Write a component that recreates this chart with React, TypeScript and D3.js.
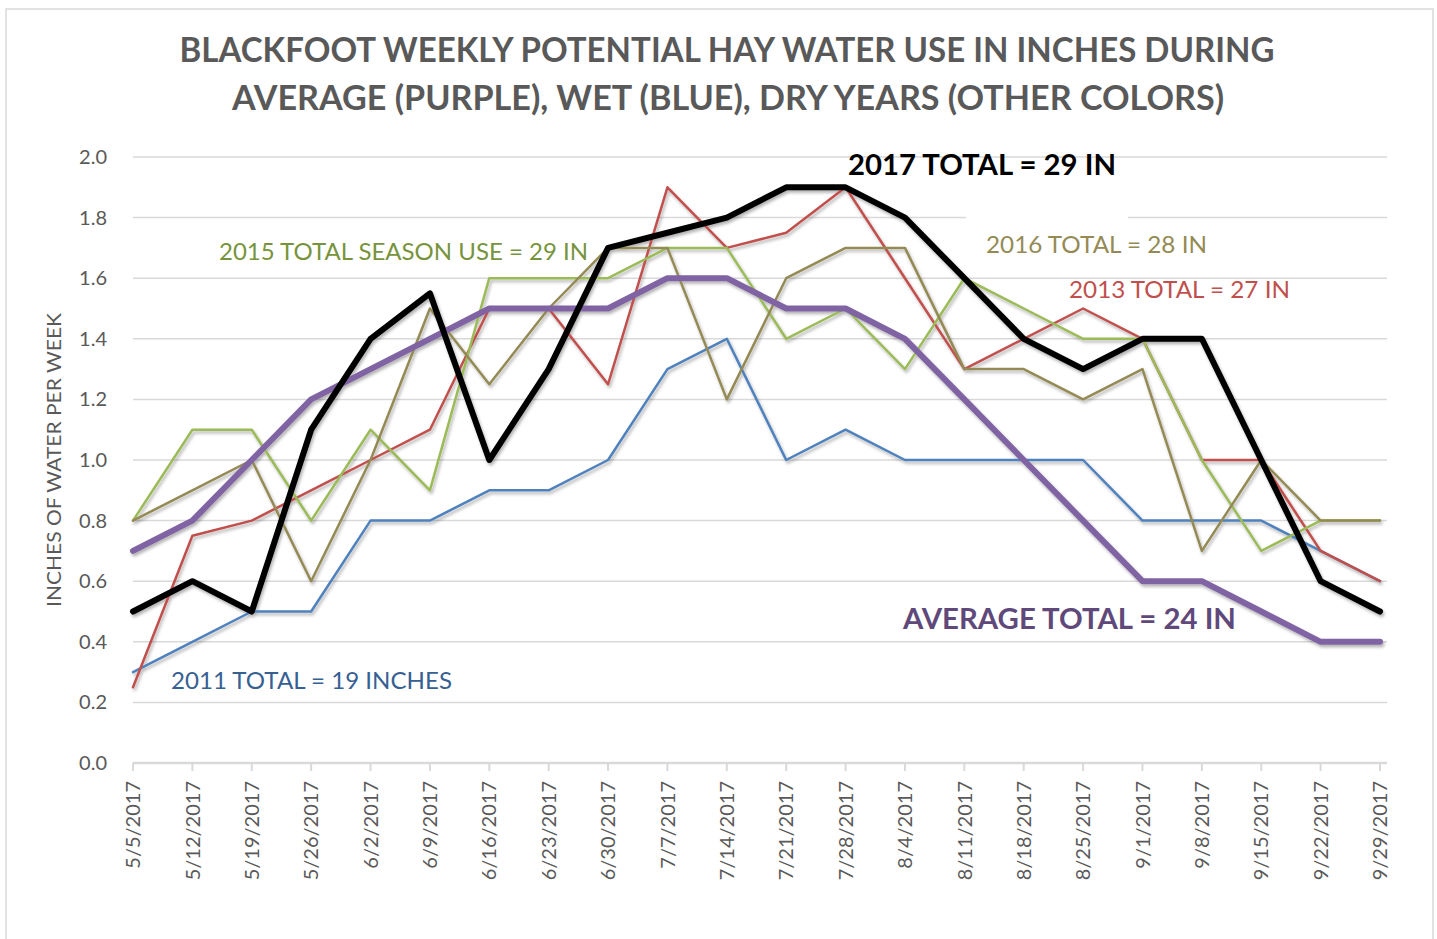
import React from "react";
import * as d3 from "d3";

const dates = [
  "5/5/2017", "5/12/2017", "5/19/2017", "5/26/2017", "6/2/2017", "6/9/2017",
  "6/16/2017", "6/23/2017", "6/30/2017", "7/7/2017", "7/14/2017", "7/21/2017",
  "7/28/2017", "8/4/2017", "8/11/2017", "8/18/2017", "8/25/2017", "9/1/2017",
  "9/8/2017", "9/15/2017", "9/22/2017", "9/29/2017",
];

const y2011 = [0.3, 0.4, 0.5, 0.5, 0.8, 0.8, 0.9, 0.9, 1.0, 1.3, 1.4, 1.0, 1.1, 1.0, 1.0, 1.0, 1.0, 0.8, 0.8, 0.8, 0.7, 0.6];
const y2013 = [0.25, 0.75, 0.8, 0.9, 1.0, 1.1, 1.5, 1.5, 1.25, 1.9, 1.7, 1.75, 1.9, 1.6, 1.3, 1.4, 1.5, 1.4, 1.0, 1.0, 0.7, 0.6];
const y2015 = [0.8, 1.1, 1.1, 0.8, 1.1, 0.9, 1.6, 1.6, 1.6, 1.7, 1.7, 1.4, 1.5, 1.3, 1.6, 1.5, 1.4, 1.4, 1.0, 0.7, 0.8, 0.8];
const y2016 = [0.8, 0.9, 1.0, 0.6, 1.0, 1.5, 1.25, 1.5, 1.7, 1.7, 1.2, 1.6, 1.7, 1.7, 1.3, 1.3, 1.2, 1.3, 0.7, 1.0, 0.8, 0.8];
const yAverage = [0.7, 0.8, 1.0, 1.2, 1.3, 1.4, 1.5, 1.5, 1.5, 1.6, 1.6, 1.5, 1.5, 1.4, 1.2, 1.0, 0.8, 0.6, 0.6, 0.5, 0.4, 0.4];
const y2017 = [0.5, 0.6, 0.5, 1.1, 1.4, 1.55, 1.0, 1.3, 1.7, 1.75, 1.8, 1.9, 1.9, 1.8, 1.6, 1.4, 1.3, 1.4, 1.4, 1.0, 0.6, 0.5];

const yTicks = [0, 0.2, 0.4, 0.6, 0.8, 1.0, 1.2, 1.4, 1.6, 1.8, 2.0];

const series = [
  { name: "2011", values: y2011, color: "#4F81BD", width: 2.5 },
  { name: "2013", values: y2013, color: "#C0504D", width: 2.5 },
  { name: "2015", values: y2015, color: "#9BBB59", width: 2.5 },
  { name: "2016", values: y2016, color: "#948A54", width: 2.5 },
  { name: "Average", values: yAverage, color: "#8064A2", width: 6 },
  { name: "2017", values: y2017, color: "#000000", width: 6 },
];

const annotations = [
  { text: "2017 TOTAL = 29 IN", x: 848, y: 175, w: 268, size: 28, weight: 700, color: "#000000" },
  { text: "2016 TOTAL = 28 IN", x: 986, y: 253, w: 221, size: 24, weight: 400, color: "#948A54" },
  { text: "2013 TOTAL = 27 IN", x: 1069, y: 298, w: 221, size: 24, weight: 400, color: "#C0504D" },
  { text: "2015 TOTAL SEASON USE = 29 IN", x: 219, y: 260, w: 369, size: 24, weight: 400, color: "#77933C" },
  { text: "2011 TOTAL = 19 INCHES", x: 171, y: 689, w: 281, size: 24, weight: 400, color: "#376092" },
  { text: "AVERAGE TOTAL = 24 IN", x: 903, y: 629, w: 333, size: 28, weight: 700, color: "#5F497A" },
];

const FONT = "Lato, 'Open Sans', sans-serif";

export default function App() {
  const W = 1437;
  const H = 939;
  const x = d3.scalePoint<string>().domain(dates).range([133, 1380]);
  const y = d3.scaleLinear().domain([0, 2]).range([763, 157]);
  const line = d3
    .line<number>()
    .x((_, i) => x(dates[i]) as number)
    .y((d) => y(d))
    .curve(d3.curveLinear);

  return (
    <svg width={W} height={H} style={{ position: "absolute", left: 0, top: 0 }}>
      <defs>
        <filter id="shadow" x="-5%" y="-5%" width="110%" height="120%">
          <feDropShadow dx="1.5" dy="2.5" stdDeviation="1.5" floodColor="#000" floodOpacity="0.3" />
        </filter>
      </defs>
      <rect x={0} y={0} width={W} height={H} fill="#fff" />
      <rect x={6} y={9} width={1427} height={H} fill="#fff" stroke="#d9d9d9" strokeWidth={1.5} />

      {/* title */}
      <text x={727} y={62} textAnchor="middle" fontFamily={FONT} fontWeight={700} fontSize={34}
        fill="#595959" textLength={1095} lengthAdjust="spacingAndGlyphs">
        BLACKFOOT WEEKLY POTENTIAL HAY WATER USE IN INCHES DURING
      </text>
      <text x={728} y={110} textAnchor="middle" fontFamily={FONT} fontWeight={700} fontSize={34}
        fill="#595959" textLength={992} lengthAdjust="spacingAndGlyphs">
        AVERAGE (PURPLE), WET (BLUE), DRY YEARS (OTHER COLORS)
      </text>

      {/* gridlines */}
      {yTicks.map((t) => (
        <line key={t} x1={133} x2={1387} y1={y(t)} y2={y(t)}
          stroke={t === 0 ? "#d9d9d9" : "#d9d9d9"} strokeWidth={t === 0 ? 2.5 : 1.5} />
      ))}
      {/* white label box covering gridline */}
      <rect x={966} y={207} width={162} height={20} fill="#fff" />

      {/* y tick labels */}
      {yTicks.map((t) => (
        <text key={"l" + t} x={107} y={y(t)} dy="0.35em" textAnchor="end" fontFamily={FONT}
          fontSize={20} fill="#595959">
          {t.toFixed(1)}
        </text>
      ))}

      {/* y axis title */}
      <text transform={`translate(61, 460) rotate(-90)`} textAnchor="middle" fontFamily={FONT}
        fontSize={20} fill="#595959" textLength={294} lengthAdjust="spacingAndGlyphs">
        INCHES OF WATER PER WEEK
      </text>

      {/* x ticks + labels */}
      {dates.map((d) => (
        <g key={d}>
          <line x1={x(d)} x2={x(d)} y1={763} y2={771} stroke="#d9d9d9" strokeWidth={2} />
          <text transform={`translate(${x(d)}, 781) rotate(-90)`} textAnchor="end" dy="0.36em"
            fontFamily={FONT} fontSize={20} fill="#595959">
            {d}
          </text>
        </g>
      ))}

      {/* series */}
      <g filter="url(#shadow)">
        {series.map((s) => (
          <path key={s.name} d={line(s.values) as string} fill="none" stroke={s.color}
            strokeWidth={s.width} strokeLinejoin="round" strokeLinecap="round" />
        ))}
      </g>

      {/* annotations */}
      {annotations.map((a) => (
        <text key={a.text} x={a.x} y={a.y} fontFamily={FONT} fontSize={a.size} fontWeight={a.weight}
          fill={a.color} textLength={a.w} lengthAdjust="spacingAndGlyphs">
          {a.text}
        </text>
      ))}
    </svg>
  );
}
